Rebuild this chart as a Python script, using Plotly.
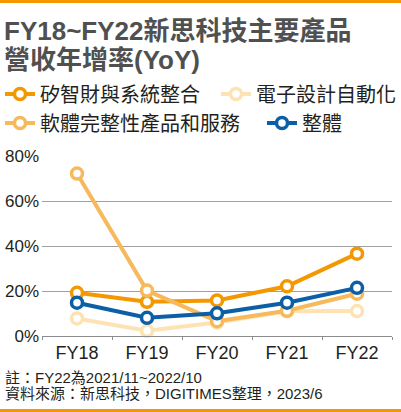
import plotly.graph_objects as go

W, H = 401, 412
ML, MR, MT, MB = 42, 9, 156, 76

years = ['FY18', 'FY19', 'FY20', 'FY21', 'FY22']
ip_sys = [19.2, 15.2, 15.8, 22.1, 36.6]      # 矽智財與系統整合
eda = [7.8, 2.3, 6.0, 11.0, 11.1]            # 電子設計自動化
sw = [72.2, 20.2, 6.6, 11.2, 18.8]           # 軟體完整性產品和服務
total = [14.8, 8.1, 10.1, 14.8, 21.4]        # 整體

names = ['矽智財與系統整合', '電子設計自動化', '軟體完整性產品和服務', '整體']
colors = ['#f39800', '#fde3b3', '#f6b95b', '#0b5fa6']

CJK = 'Liberation Sans, Noto Sans CJK TC'
INK = '#231f20'

pw = W - ML - MR
ph = H - MT - MB


def cx(x):
    # pixel x -> container fraction
    return x / W


def cy(y):
    # pixel y -> container fraction
    return 1 - y / H


def px(x):
    # pixel x -> paper
    return (x - ML) / pw


def py(y):
    # pixel y -> paper
    return (H - MB - y) / ph


fig = go.Figure()

# drawing order: pale first, blue on top
order = [(1, eda, 'legend2'), (0, ip_sys, 'legend'), (2, sw, 'legend3'), (3, total, 'legend4')]
for i, vals, leg in order:
    fig.add_trace(go.Scatter(
        x=years, y=vals, name=names[i],
        mode='lines+markers',
        line=dict(color=colors[i], width=4),
        marker=dict(size=11, color='white', line=dict(color=colors[i], width=3.5)),
        legend=leg,
        cliponaxis=False,
    ))

leg_style = dict(orientation='h', bgcolor='rgba(0,0,0,0)', borderwidth=0,
                 font=dict(family=CJK, size=20, color=INK),
                 xref='container', yref='container',
                 yanchor='middle', xanchor='left')

fig.update_layout(
    width=W, height=H,
    margin=dict(l=ML, r=MR, t=MT, b=MB, autoexpand=False),
    paper_bgcolor='white', plot_bgcolor='white',
    showlegend=True,
    legend=dict(x=cx(0), y=cy(94), **leg_style),
    legend2=dict(x=cx(216), y=cy(94), **leg_style),
    legend3=dict(x=cx(0), y=cy(123), **leg_style),
    legend4=dict(x=cx(262), y=cy(123), **leg_style),
    xaxis=dict(
        range=[-0.5, 4.5], showgrid=False,
        showline=True, linecolor='#8c8c8c', linewidth=1.3,
        ticks='outside', tickson='boundaries', ticklen=3, tickcolor='#8c8c8c',
        tickfont=dict(family='Liberation Sans', size=18, color=INK),
        fixedrange=True,
    ),
    yaxis=dict(
        range=[0, 80], dtick=20, ticksuffix='%',
        showgrid=True, gridcolor='#a0a0a0', gridwidth=1.3,
        zeroline=False, showline=False, ticks='',
        tickfont=dict(family='Liberation Sans', size=17, color=INK),
        ticklabelstandoff=2,
        fixedrange=True,
    ),
)


def note(text, x, y, size, color, weight='normal'):
    fig.add_annotation(text=text, x=px(x), y=py(y), xref='paper', yref='paper',
                       xanchor='left', yanchor='middle', showarrow=False,
                       font=dict(family=CJK, size=size, color=color, weight=weight))


# title
note('FY18~FY22新思科技主要產品', 2, 31, 26, '#505050', 'bold')
note('營收年增率(YoY)', 2, 60, 26, '#505050', 'bold')

# source notes
note('註：FY22為2021/11~2022/10', 3, 377, 15, INK)
note('資料來源：新思科技，DIGITIMES整理，2023/6', 3, 393, 15, INK)

# orange bars top and bottom
for y0, y1 in ((0, 3), (409, 412)):
    fig.add_shape(type='rect', xref='paper', yref='paper', layer='above',
                  x0=px(0), x1=px(W), y0=py(y0), y1=py(y1),
                  fillcolor='#f39800', line_width=0)

# no page margin, so the figure sits at the window corner
fig.write_html('out.html', config={'displayModeBar': False},
               post_script="document.body.style.margin='0';")
